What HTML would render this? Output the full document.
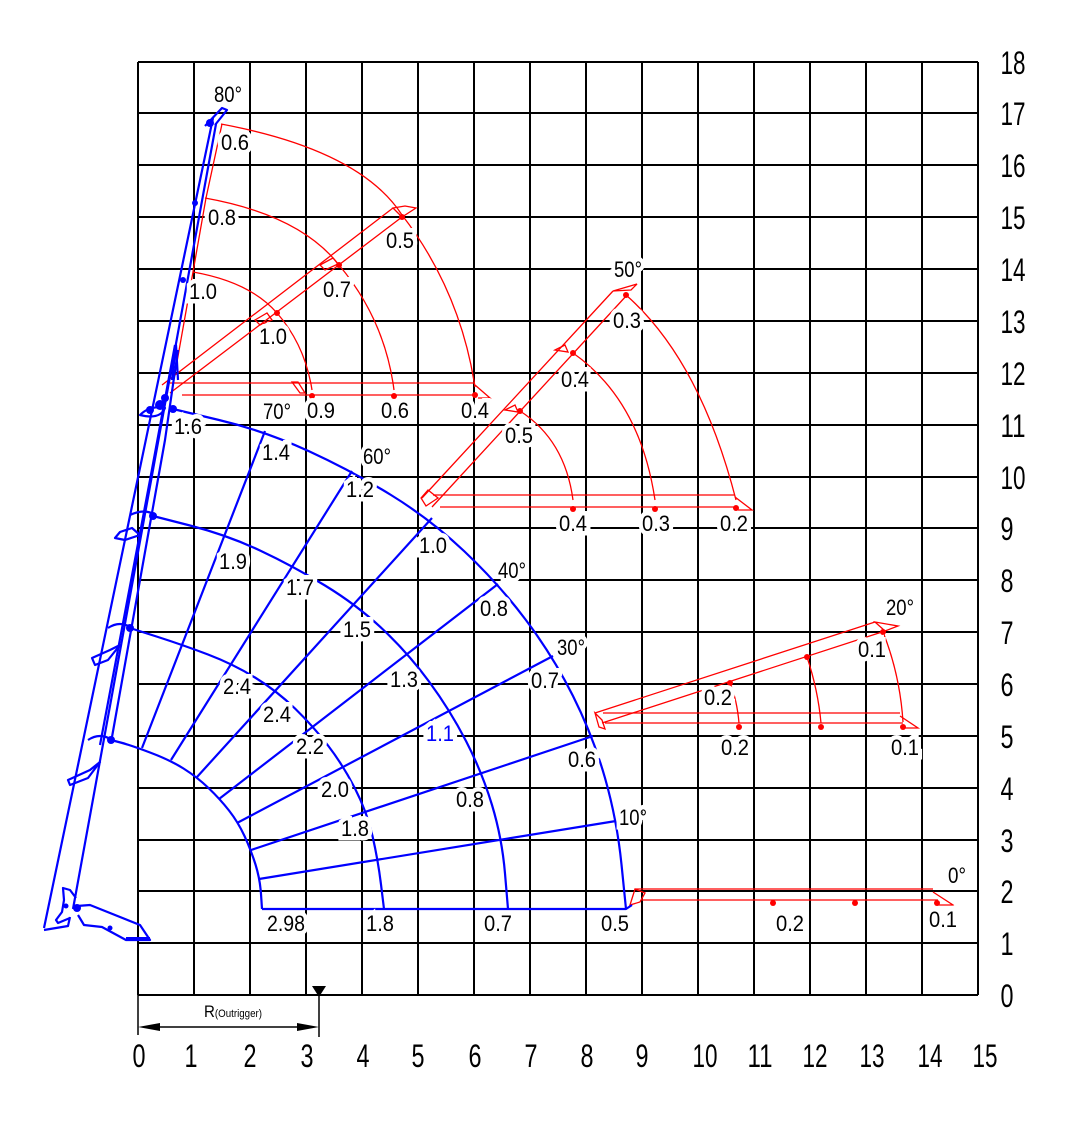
<!DOCTYPE html>
<html><head><meta charset="utf-8"><style>
html,body{margin:0;padding:0;background:#fff;}
svg{display:block;}
.l{font-family:"Liberation Sans",sans-serif;font-size:22px;fill:#000;text-anchor:middle;paint-order:stroke;stroke:#fff;stroke-width:9px;}
.a{font-family:"Liberation Sans",sans-serif;font-size:32px;fill:#000;text-anchor:middle;}
</style></head><body>
<svg width="1080" height="1125" viewBox="0 0 1080 1125" xmlns="http://www.w3.org/2000/svg">
<rect width="1080" height="1125" fill="#fff"/>
<g stroke="#000" stroke-width="2" fill="none">
<path d="M138,62V995M194,62V995M250,62V995M306,62V995M362,62V995M418,62V995M474,62V995M530,62V995M586,62V995M642,62V995M698,62V995M754,62V995M810,62V995M866,62V995M922,62V995M978,62V995"/>
<path d="M138,62H978M138,113H978M138,165H978M138,217H978M138,269H978M138,321H978M138,373H978M138,425H978M138,477H978M138,528H978M138,580H978M138,632H978M138,684H978M138,736H978M138,788H978M138,840H978M138,891H978M138,943H978M138,995H978"/>
<path d="M754,528V552"/>
<path d="M138,995V1035M319,995V1037M148,1027H309" stroke-width="1.5"/>
</g>
<path d="M312,986H326L319,997Z" fill="#000"/>
<path d="M138,1027L160,1023V1031Z M319,1027L297,1023V1031Z" fill="#000"/>
<text x="233" y="1017" font-family="Liberation Sans,sans-serif" font-size="17" text-anchor="middle" textLength="58" lengthAdjust="spacingAndGlyphs">R<tspan font-size="11">(Outrigger)</tspan></text>

<g class="a">
<text x="1013" y="74" textLength="25" lengthAdjust="spacingAndGlyphs">18</text>
<text x="1013" y="125" textLength="25" lengthAdjust="spacingAndGlyphs">17</text>
<text x="1013" y="177" textLength="25" lengthAdjust="spacingAndGlyphs">16</text>
<text x="1013" y="229" textLength="25" lengthAdjust="spacingAndGlyphs">15</text>
<text x="1013" y="281" textLength="25" lengthAdjust="spacingAndGlyphs">14</text>
<text x="1013" y="333" textLength="25" lengthAdjust="spacingAndGlyphs">13</text>
<text x="1013" y="385" textLength="25" lengthAdjust="spacingAndGlyphs">12</text>
<text x="1013" y="437" textLength="25" lengthAdjust="spacingAndGlyphs">11</text>
<text x="1013" y="489" textLength="25" lengthAdjust="spacingAndGlyphs">10</text>
<text x="1007" y="540" textLength="13" lengthAdjust="spacingAndGlyphs">9</text>
<text x="1007" y="592" textLength="13" lengthAdjust="spacingAndGlyphs">8</text>
<text x="1007" y="644" textLength="13" lengthAdjust="spacingAndGlyphs">7</text>
<text x="1007" y="696" textLength="13" lengthAdjust="spacingAndGlyphs">6</text>
<text x="1007" y="748" textLength="13" lengthAdjust="spacingAndGlyphs">5</text>
<text x="1007" y="800" textLength="13" lengthAdjust="spacingAndGlyphs">4</text>
<text x="1007" y="852" textLength="13" lengthAdjust="spacingAndGlyphs">3</text>
<text x="1007" y="903" textLength="13" lengthAdjust="spacingAndGlyphs">2</text>
<text x="1007" y="955" textLength="13" lengthAdjust="spacingAndGlyphs">1</text>
<text x="1007" y="1007" textLength="13" lengthAdjust="spacingAndGlyphs">0</text>
<text x="139" y="1067" textLength="13" lengthAdjust="spacingAndGlyphs">0</text>
<text x="191" y="1067" textLength="13" lengthAdjust="spacingAndGlyphs">1</text>
<text x="250" y="1067" textLength="13" lengthAdjust="spacingAndGlyphs">2</text>
<text x="307" y="1067" textLength="13" lengthAdjust="spacingAndGlyphs">3</text>
<text x="363" y="1067" textLength="13" lengthAdjust="spacingAndGlyphs">4</text>
<text x="418" y="1067" textLength="13" lengthAdjust="spacingAndGlyphs">5</text>
<text x="475" y="1067" textLength="13" lengthAdjust="spacingAndGlyphs">6</text>
<text x="531" y="1067" textLength="13" lengthAdjust="spacingAndGlyphs">7</text>
<text x="587" y="1067" textLength="13" lengthAdjust="spacingAndGlyphs">8</text>
<text x="642" y="1067" textLength="13" lengthAdjust="spacingAndGlyphs">9</text>
<text x="705" y="1067" textLength="25" lengthAdjust="spacingAndGlyphs">10</text>
<text x="760" y="1067" textLength="25" lengthAdjust="spacingAndGlyphs">11</text>
<text x="815" y="1067" textLength="25" lengthAdjust="spacingAndGlyphs">12</text>
<text x="872" y="1067" textLength="25" lengthAdjust="spacingAndGlyphs">13</text>
<text x="930" y="1067" textLength="25" lengthAdjust="spacingAndGlyphs">14</text>
<text x="985" y="1067" textLength="25" lengthAdjust="spacingAndGlyphs">15</text>
</g>

<g stroke="#ff0000" stroke-width="1.3" fill="none">
<path d="M172,390L193,272L206,198L222,124"/>
<path d="M162,385L393,208M170,393L402,217"/>
<path d="M170,383H475M182,395H475"/>
<path d="M221,124Q360,150 402,215Q460,290 475,387"/>
<path d="M205,198Q300,215 339,265Q385,320 394,390"/>
<path d="M193,272Q250,282 277,313Q305,345 312,390"/>
<path d="M393,208L405,206L416,208L402,217Z M475,385L490,398L478,398"/>
<path d="M255,320L267,313L272,320L260,325Z M320,265L333,258L338,264L325,270Z M292,382L300,393L305,393L298,382Z"/>
<path d="M422,498L613,291M432,507L627,295"/>
<path d="M433,495H735M440,507H735"/>
<path d="M421,498L428,490L438,498L426,506Z M613,291L637,284L631,290Z"/>
<path d="M626,295Q700,360 736,500"/>
<path d="M573,353Q640,400 655,500"/>
<path d="M520,411Q565,440 573,500"/>
<path d="M735,497L752,510L738,510 M555,350L565,345L568,352Z M505,410L515,405L518,412Z"/>
<path d="M595,713L875,622M602,723L882,632"/>
<path d="M603,713H900M605,723H903"/>
<path d="M595,713L599,727L605,729L602,720Z M875,622L898,626L885,631Z M900,716L918,728L903,728"/>
<path d="M883,632Q900,675 903,722"/>
<path d="M807,657Q818,690 821,723"/>
<path d="M730,683Q737,700 739,723"/>
<path d="M635,889H933M642,900H938"/>
<path d="M630,905L635,889L645,893L640,902Z M933,892L953,905L937,905"/>
</g>
<g fill="#ff0000">
<circle cx="277" cy="313" r="3"/><circle cx="339" cy="265" r="3"/><circle cx="402" cy="217" r="3"/>
<circle cx="312" cy="396" r="3"/><circle cx="394" cy="396" r="3"/><circle cx="475" cy="395" r="3"/>
<circle cx="520" cy="411" r="3"/><circle cx="573" cy="353" r="3"/><circle cx="626" cy="295" r="3"/>
<circle cx="573" cy="509" r="3"/><circle cx="655" cy="509" r="3"/><circle cx="736" cy="508" r="3"/>
<circle cx="730" cy="683" r="3"/><circle cx="807" cy="657" r="3"/><circle cx="883" cy="632" r="3"/>
<circle cx="739" cy="727" r="3"/><circle cx="821" cy="727" r="3"/><circle cx="903" cy="727" r="3"/>
<circle cx="773" cy="903" r="3"/><circle cx="855" cy="903" r="3"/><circle cx="937" cy="903" r="3"/>
</g>

<g stroke="#0000ff" stroke-width="2.2" fill="none" stroke-linejoin="round">
<path d="M111,740 L120.5,742.5 Q130,745 150,752.5 Q170,760 183.5,768.5 Q197,777 208.5,788 Q220,799 229,810.5 Q238,822 244.5,836 Q251,850 255.5,864.5 Q260,879 261,894 L262,909"/>
<path d="M130,628 L156.5,636.5 Q183,645 208,654.5 Q233,664 255,677.5 Q277,691 295,708.5 Q313,726 328,745.5 Q343,765 355,788.5 Q367,812 372.5,836 Q378,860 381,884.5 L384,909"/>
<path d="M153,516 L190,525.5 Q227,535 260,550.5 Q293,566 325,585.5 Q357,605 382.5,629 Q408,653 429,681.5 Q450,710 466,741 Q482,772 492,805 Q502,838 505,873.5 L508,909"/>
<path d="M173,409 L219,420 Q265,431 308.5,451 Q352,471 391,495 Q430,519 464,551 Q498,583 525.5,619.5 Q553,656 573,696 Q593,736 605,778 Q617,820 621.5,864.5 L626,909"/>
<path d="M262,909H626L632,905"/>
<path d="M142,748L265,431M171,760L352,471M197,777L432,518M219,799L498,584M237,823L553,656M251,850L593,736M259,879L616,821"/>
<path d="M44,928L213,118M73,909L216,124"/>
<path d="M100,745L150,480L175,345M112,737L165,440L178,350"/>
<path d="M205,126L222,108L227,110L215,125"/>
<path d="M140,415Q150,405 165,408Q160,420 140,415Z"/>
<path d="M130,515Q145,508 155,515"/>
<path d="M120,532L132,528L140,535L125,540L115,538Z"/>
<path d="M108,628Q120,620 132,628"/>
<path d="M92,658L110,650L120,645L108,660L95,665Z"/>
<path d="M88,740Q100,732 112,740"/>
<path d="M68,780L90,770L100,762L88,778L70,785Z"/>
<path d="M44,930L68,926L70,917"/>
<path d="M70,918L58,923L56,920L62,912L64,900L63,888L70,890L76,898"/>
<path d="M77,906L90,905L140,925L150,940L126,940L102,927L84,925L78,915"/>
<path d="M178,380L176,345L172,380"/>
</g>
<path d="M126,939H150" stroke="#0000ff" stroke-width="4"/>
<g fill="#0000ff">
<circle cx="153" cy="516" r="4"/><circle cx="130" cy="628" r="4"/><circle cx="111" cy="740" r="4"/>
<circle cx="173" cy="409" r="4"/><circle cx="160" cy="405" r="5"/><circle cx="150" cy="410" r="4"/><circle cx="165" cy="398" r="4"/>
<circle cx="77" cy="908" r="4"/><circle cx="66" cy="906" r="2.5"/><circle cx="110" cy="928" r="2.5"/><circle cx="210" cy="123" r="4"/>
<circle cx="195" cy="203" r="3"/><circle cx="183" cy="280" r="3"/>
</g>

<g class="l">
<text x="228" y="102" textLength="28" lengthAdjust="spacingAndGlyphs">80°</text>
<text x="235" y="150" textLength="28" lengthAdjust="spacingAndGlyphs">0.6</text>
<text x="222" y="225" textLength="28" lengthAdjust="spacingAndGlyphs">0.8</text>
<text x="203" y="299" textLength="28" lengthAdjust="spacingAndGlyphs">1.0</text>
<text x="273" y="344" textLength="28" lengthAdjust="spacingAndGlyphs">1.0</text>
<text x="337" y="297" textLength="28" lengthAdjust="spacingAndGlyphs">0.7</text>
<text x="400" y="248" textLength="28" lengthAdjust="spacingAndGlyphs">0.5</text>
<text x="321" y="418" textLength="28" lengthAdjust="spacingAndGlyphs">0.9</text>
<text x="395" y="418" textLength="28" lengthAdjust="spacingAndGlyphs">0.6</text>
<text x="475" y="418" textLength="28" lengthAdjust="spacingAndGlyphs">0.4</text>
<text x="188" y="434" textLength="28" lengthAdjust="spacingAndGlyphs">1.6</text>
<text x="277" y="419" textLength="28" lengthAdjust="spacingAndGlyphs">70°</text>
<text x="276" y="460" textLength="28" lengthAdjust="spacingAndGlyphs">1.4</text>
<text x="377" y="464" textLength="28" lengthAdjust="spacingAndGlyphs">60°</text>
<text x="360" y="497" textLength="28" lengthAdjust="spacingAndGlyphs">1.2</text>
<text x="433" y="553" textLength="28" lengthAdjust="spacingAndGlyphs">1.0</text>
<text x="519" y="443" textLength="28" lengthAdjust="spacingAndGlyphs">0.5</text>
<text x="575" y="387" textLength="28" lengthAdjust="spacingAndGlyphs">0.4</text>
<text x="627" y="328" textLength="28" lengthAdjust="spacingAndGlyphs">0.3</text>
<text x="628" y="277" textLength="28" lengthAdjust="spacingAndGlyphs">50°</text>
<text x="573" y="531" textLength="28" lengthAdjust="spacingAndGlyphs">0.4</text>
<text x="656" y="531" textLength="28" lengthAdjust="spacingAndGlyphs">0.3</text>
<text x="734" y="531" textLength="28" lengthAdjust="spacingAndGlyphs">0.2</text>
<text x="233" y="569" textLength="28" lengthAdjust="spacingAndGlyphs">1.9</text>
<text x="300" y="595" textLength="28" lengthAdjust="spacingAndGlyphs">1.7</text>
<text x="357" y="637" textLength="28" lengthAdjust="spacingAndGlyphs">1.5</text>
<text x="512" y="578" textLength="28" lengthAdjust="spacingAndGlyphs">40°</text>
<text x="494" y="616" textLength="28" lengthAdjust="spacingAndGlyphs">0.8</text>
<text x="571" y="655" textLength="28" lengthAdjust="spacingAndGlyphs">30°</text>
<text x="545" y="688" textLength="28" lengthAdjust="spacingAndGlyphs">0.7</text>
<text x="404" y="687" textLength="28" lengthAdjust="spacingAndGlyphs">1.3</text>
<text x="237" y="694" textLength="28" lengthAdjust="spacingAndGlyphs">2.4</text>
<text x="277" y="722" textLength="28" lengthAdjust="spacingAndGlyphs">2.4</text>
<text x="440" y="741" textLength="28" lengthAdjust="spacingAndGlyphs" style="fill:#0000ff">1.1</text>
<text x="310" y="754" textLength="28" lengthAdjust="spacingAndGlyphs">2.2</text>
<text x="582" y="767" textLength="28" lengthAdjust="spacingAndGlyphs">0.6</text>
<text x="335" y="797" textLength="28" lengthAdjust="spacingAndGlyphs">2.0</text>
<text x="470" y="807" textLength="28" lengthAdjust="spacingAndGlyphs">0.8</text>
<text x="355" y="836" textLength="28" lengthAdjust="spacingAndGlyphs">1.8</text>
<text x="633" y="825" textLength="28" lengthAdjust="spacingAndGlyphs">10°</text>
<text x="286" y="931" textLength="38" lengthAdjust="spacingAndGlyphs">2.98</text>
<text x="380" y="931" textLength="28" lengthAdjust="spacingAndGlyphs">1.8</text>
<text x="498" y="931" textLength="28" lengthAdjust="spacingAndGlyphs">0.7</text>
<text x="615" y="931" textLength="28" lengthAdjust="spacingAndGlyphs">0.5</text>
<text x="735" y="755" textLength="28" lengthAdjust="spacingAndGlyphs">0.2</text>
<text x="905" y="755" textLength="28" lengthAdjust="spacingAndGlyphs">0.1</text>
<text x="718" y="705" textLength="28" lengthAdjust="spacingAndGlyphs">0.2</text>
<text x="872" y="657" textLength="28" lengthAdjust="spacingAndGlyphs">0.1</text>
<text x="900" y="615" textLength="28" lengthAdjust="spacingAndGlyphs">20°</text>
<text x="957" y="883" textLength="18" lengthAdjust="spacingAndGlyphs">0°</text>
<text x="790" y="931" textLength="28" lengthAdjust="spacingAndGlyphs">0.2</text>
<text x="943" y="927" textLength="28" lengthAdjust="spacingAndGlyphs">0.1</text>
</g>
</svg>
</body></html>
